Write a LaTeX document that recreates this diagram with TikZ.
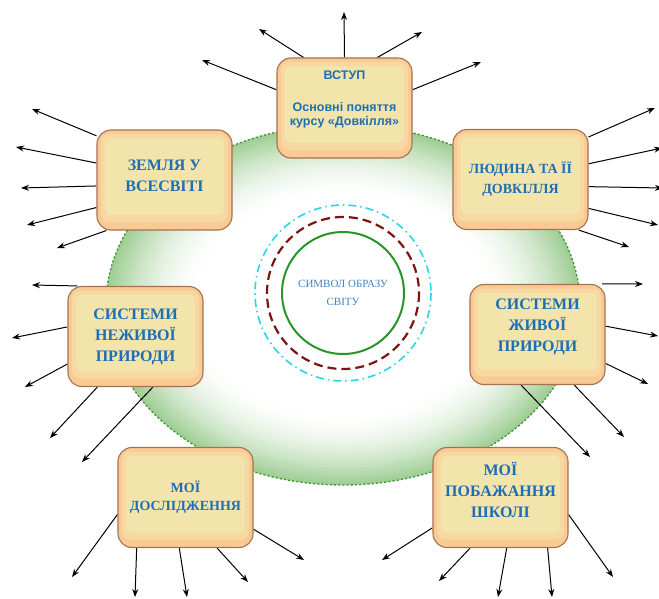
\documentclass[tikz,border=0pt]{standalone}
\usepackage{fontspec}
\setmainfont{Liberation Serif}[BoldFont={Liberation Serif Bold}]
\newfontfamily\boxsans{Liberation Sans}
\usetikzlibrary{positioning,arrows.meta,backgrounds}

\definecolor{boxedge}{RGB}{249,202,150}
\definecolor{boxmid}{RGB}{247,216,160}
\definecolor{boxinner}{RGB}{243,228,172}
\definecolor{boxline}{RGB}{165,115,75}
\definecolor{textblue}{RGB}{30,110,180}
\definecolor{ringgreen}{RGB}{160,206,150}
\definecolor{ringline}{RGB}{60,150,50}
\definecolor{circgreen}{RGB}{40,150,40}
\definecolor{circred}{RGB}{125,20,20}
\definecolor{circcyan}{RGB}{40,215,230}

\newcommand\padlow[1]{\rule[-#1]{0pt}{0pt}}

\begin{document}
\begin{tikzpicture}[x=1pt,y=-1pt,
  topic/.style={draw=boxline,line width=1.1pt,fill=boxedge,rounded corners=14pt,
    minimum width=135pt,minimum height=100pt,align=center,text=textblue,
    font=\bfseries\fontsize{16}{21}\selectfont,
    path picture={
      \fill[boxmid,rounded corners=8pt] ([shift={(4pt,-4pt)}]path picture bounding box.north west)
        rectangle ([shift={(-4pt,8pt)}]path picture bounding box.south east);
      \fill[boxinner,rounded corners=6pt] ([shift={(8pt,-8pt)}]path picture bounding box.north west)
        rectangle ([shift={(-8pt,15pt)}]path picture bounding box.south east);}},
  small/.style={font=\bfseries\fontsize{14}{19}\selectfont},
  arr/.style={-{Stealth[length=8pt,width=6pt]},line width=1pt,black}]

\useasboundingbox (0,0) rectangle (659,599);

\node[topic,font=\boxsans\bfseries\fontsize{12.5}{14}\selectfont] (vstup) at (344.5,108)
  {ВСТУП\\[18pt]Основні поняття\\курсу «Довкілля»\padlow{20pt}};
\node[topic] (zemlya) at (164.5,180) {ЗЕМЛЯ У\\ВСЕСВІТІ\padlow{8pt}};
\node[topic,small] (lyudyna) at (520.5,179.5) {ЛЮДИНА ТА ЇЇ\\[1pt]ДОВКІЛЛЯ};
\node[topic] (nezhyva) at (135.5,336.5) {СИСТЕМИ\\НЕЖИВОЇ\\ПРИРОДИ};
\node[topic] (zhyva) at (537.5,334.5) {СИСТЕМИ\\ЖИВОЇ\\ПРИРОДИ\padlow{19pt}};
\node[topic,small] (doslid) at (185.5,497.5) {МОЇ\\[-1pt]ДОСЛІДЖЕННЯ};
\node[topic] (pobazh) at (500.5,497.5) {МОЇ\\ПОБАЖАННЯ\\ШКОЛІ\padlow{16pt}};

\node[circle,draw=circgreen,line width=2pt,minimum size=122pt,align=center,
  text=textblue!85,font=\fontsize{11}{18}\selectfont] (symbol) at (343,293)
  {СИМВОЛ ОБРАЗУ\\СВІТУ};
\draw[circred,line width=2.2pt,dash pattern=on 9pt off 5pt] (symbol.center) circle [radius=76];
\draw[circcyan,line width=1.6pt,dash pattern=on 8pt off 4pt on 1.5pt off 4pt] (symbol.center) circle [radius=88];

\begin{scope}[on background layer]
\fill[white] (0,0) rectangle (659,599);
\foreach \i in {0,...,26}{
  \pgfmathsetmacro\s{1-0.016*\i}
  \pgfmathsetmacro\c{100*max(0,1-\i/24)^1.7}
  \fill[ringgreen!\c!white] (343,305) ellipse [x radius=237*\s, y radius=180*\s];
}
\draw[ringline,line width=1.3pt,dash pattern=on 2.2pt off 2pt] (343,305) ellipse [x radius=237, y radius=180];

\foreach \a/\p in {129/{259,29},90/{344,12},57.5/{422,32},165.5/{202,60},15.4/{481,62}}
  \draw[arr] (vstup.\a) -- (\p);
\foreach \a/\p in {147/{32,109},166.7/{16,147},185/{21,188},202.5/{27,225},221.5/{57,248}}
  \draw[arr] (zemlya.\a) -- (\p);
\foreach \a/\p in {32.4/{655,108},13.5/{662,148},354.6/{663,188},337.3/{658,225},319.4/{629,247}}
  \draw[arr] (lyudyna.\a) -- (\p);
\foreach \a/\p in {139.3/{32,285},172/{12,338},202.9/{25,387},233.9/{50,438},289.1/{82,462}}
  \draw[arr] (nezhyva.\a) -- (\p);
\foreach \a/\p in {38.1/{643,284},7.9/{658,336},337.1/{648,384},306.8/{624,437},252.9/{590,457}}
  \draw[arr] (zhyva.\a) -- (\p);
\foreach \a/\p in {194.3/{72,577},226.2/{135,597},263.8/{187,597},302/{248,582},335.7/{304,560}}
  \draw[arr] (doslid.\a) -- (\p);
\foreach \a/\p in {204.3/{382,560},239.7/{439,581},277.3/{498,597},313.8/{552,597},346.5/{613,577}}
  \draw[arr] (pobazh.\a) -- (\p);
\end{scope}

\end{tikzpicture}
\end{document}
